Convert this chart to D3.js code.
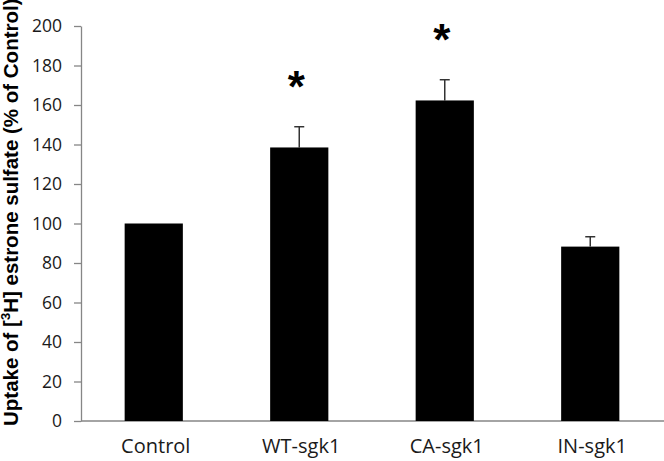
<!DOCTYPE html>
<html>
<head>
<meta charset="utf-8">
<script src="https://cdn.jsdelivr.net/npm/d3@7"></script>
<style>
  body { margin: 0; background: #fff; }
  svg { display: block; }
</style>
</head>
<body>
<div id="chart"></div>
<script>
var categories = ["Control", "WT-sgk1", "CA-sgk1", "IN-sgk1"];
var means = [100, 138.5, 162.3, 88.3];
var errors = [0, 10.5, 10.5, 5];
var marked = [false, true, true, false];
var yTicks = [0, 20, 40, 60, 80, 100, 120, 140, 160, 180, 200];

var width = 664, height = 461;
var plotLeft = 81, plotRight = 663, plotTop = 26, plotBottom = 421;

var svg = d3.select('#chart').append('svg')
	.attr('width', width)
	.attr('height', height);

var x = d3.scaleBand()
	.domain(categories)
	.range([plotLeft, plotRight])
	.paddingInner(0.6)
	.paddingOuter(0.3);

var y = d3.scaleLinear()
	.domain([0, 200])
	.range([plotBottom, plotTop]);

// y axis
var yAxis = svg.append('g')
	.attr('transform', 'translate(' + plotLeft + ',0)')
	.call(d3.axisLeft(y).tickValues(yTicks).tickSize(7).tickPadding(12).tickSizeOuter(0));
yAxis.selectAll('path, line').attr('stroke', '#868686').attr('stroke-width', 1.3);
yAxis.selectAll('text')
	.attr('font-family', 'Open Sans')
	.attr('font-size', '17.5px')
	.attr('fill', '#1a1a1a');

// x axis line
svg.append('line')
	.attr('x1', plotLeft).attr('x2', width)
	.attr('y1', plotBottom).attr('y2', plotBottom)
	.attr('stroke', '#868686')
	.attr('stroke-width', 1.3);

// category labels
svg.selectAll('.cat')
	.data(categories)
	.enter().append('text')
	.attr('x', function(d) { return x(d) + x.bandwidth() / 2 + 2; })
	.attr('y', 453)
	.attr('text-anchor', 'middle')
	.attr('font-family', 'Open Sans')
	.attr('font-size', '20px')
	.attr('fill', '#1a1a1a')
	.text(function(d) { return d; });

// error bars (drawn behind bars)
categories.forEach(function(c, i) {
	if (errors[i] <= 0) return;
	var cx = x(c) + x.bandwidth() / 2;
	svg.append('line')
		.attr('x1', cx).attr('x2', cx)
		.attr('y1', y(means[i])).attr('y2', y(means[i] + errors[i]))
		.attr('stroke', '#333').attr('stroke-width', 1.5);
	svg.append('line')
		.attr('x1', cx - 5).attr('x2', cx + 5)
		.attr('y1', y(means[i] + errors[i])).attr('y2', y(means[i] + errors[i]))
		.attr('stroke', '#333').attr('stroke-width', 1.5);
});

// bars
svg.selectAll('.bar')
	.data(categories)
	.enter().append('rect')
	.attr('x', function(d) { return x(d); })
	.attr('y', function(d, i) { return y(means[i]); })
	.attr('width', x.bandwidth())
	.attr('height', function(d, i) { return plotBottom - y(means[i]); })
	.attr('fill', '#000');

// significance asterisks
categories.forEach(function(c, i) {
	if (!marked[i]) return;
	svg.append('text')
		.attr('x', x(c) + x.bandwidth() / 2 - 3)
		.attr('y', y(means[i] + errors[i]) - 25)
		.attr('text-anchor', 'middle')
		.attr('font-family', 'Liberation Sans')
		.attr('font-weight', 'bold')
		.attr('font-size', '44px')
		.attr('fill', '#000')
		.text('*');
});

// y axis title
var title = svg.append('text')
	.attr('transform', 'translate(18,426) rotate(-90)')
	.attr('font-family', 'Liberation Sans')
	.attr('font-weight', 'bold')
	.attr('font-size', '20.5px')
	.attr('fill', '#000');
title.append('tspan').text('Uptake of [');
title.append('tspan').attr('font-size', '13px').attr('dy', -8).text('3');
title.append('tspan').attr('dy', 8).text('H] estrone sulfate (% of Control)');
</script>
</body>
</html>
